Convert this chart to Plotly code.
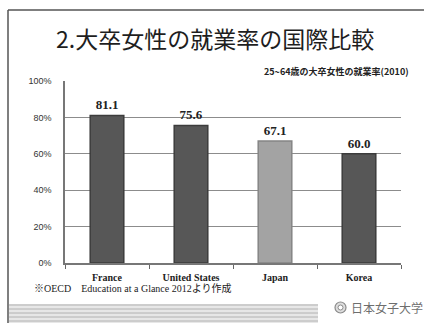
import plotly.graph_objects as go

# Employment rate of university-educated women aged 25-64 (2010)
countries = ["France", "United States", "Japan", "Korea"]
rates = [81.1, 75.6, 67.1, 60.0]
bar_colors = ["#575757", "#575757", "#a3a3a3", "#575757"]
bar_edges = ["#3c3c3c", "#3c3c3c", "#858585", "#3c3c3c"]
y_ticks = [0, 20, 40, 60, 80, 100]
y_tick_text = ["0%", "20%", "40%", "60%", "80%", "100%"]

W, H = 424, 323
ML, MR, MT, MB = 65, 23, 81, 60
PW, PH = W - ML - MR, H - MT - MB


def px(x):
    return (x - ML) / PW


def py(y):
    return (H - MB - y) / PH


fig = go.Figure(
    go.Bar(
        x=countries,
        y=rates,
        width=0.4,
        marker=dict(color=bar_colors, line=dict(color=bar_edges, width=1.5)),
        text=[f"{v:.1f}" for v in rates],
        textposition="outside",
        cliponaxis=False,
        textfont=dict(family="Liberation Serif", size=13, color="#222222", weight="bold"),
    )
)

shapes = []
# slide frame: top and left border
shapes.append(dict(type="line", xref="paper", yref="paper",
                   x0=px(8), x1=px(W + 5), y0=py(10), y1=py(10),
                   line=dict(color="#555555", width=1.5)))
shapes.append(dict(type="line", xref="paper", yref="paper",
                   x0=px(8), x1=px(8), y0=py(10), y1=py(H + 5),
                   line=dict(color="#555555", width=1.5)))
# striped footer band
for i, yy in enumerate(range(305, 324, 2)):
    shapes.append(dict(type="line", xref="paper", yref="paper",
                       x0=px(9), x1=px(318), y0=py(yy), y1=py(yy),
                       line=dict(color="#9a9a9a" if i % 2 == 0 else "#cfcfcf", width=1)))
# emblem
shapes.append(dict(type="circle", xref="paper", yref="paper",
                   x0=px(335), x1=px(346), y0=py(302), y1=py(313),
                   line=dict(color="#8a8a8a", width=1.2), fillcolor="#dddddd"))
shapes.append(dict(type="circle", xref="paper", yref="paper",
                   x0=px(338), x1=px(343), y0=py(305), y1=py(310),
                   line=dict(color="#8a8a8a", width=1), fillcolor="#ffffff"))

annotations = [
    dict(text="2.大卒女性の就業率の国際比較", xref="paper", yref="paper",
         x=px(215), y=py(38), xanchor="center", yanchor="middle", showarrow=False,
         font=dict(family="Noto Sans CJK JP", size=23, color="#1e1e1e")),
    dict(text="25~64歳の大卒女性の就業率(2010)", xref="paper", yref="paper",
         x=px(411), y=py(72), xanchor="right", yanchor="middle", showarrow=False,
         font=dict(family="Noto Sans CJK JP", size=9, color="#222222", weight="bold")),
    dict(text="※OECD　Education at a Glance 2012より作成", xref="paper", yref="paper",
         x=px(32), y=py(288), xanchor="left", yanchor="middle", showarrow=False,
         font=dict(family="Liberation Serif, Noto Sans CJK JP", size=10, color="#222222")),
    dict(text="日本女子大学", xref="paper", yref="paper",
         x=px(349), y=py(307), xanchor="left", yanchor="middle", showarrow=False,
         font=dict(family="Noto Sans CJK JP", size=12, color="#6e6e6e")),
]

fig.update_layout(
    width=W, height=H,
    margin=dict(l=ML, r=MR, t=MT, b=MB, pad=0),
    paper_bgcolor="white", plot_bgcolor="white",
    showlegend=False,
    shapes=shapes,
    annotations=annotations,
    bargap=0.6,
    xaxis=dict(
        type="category",
        tickson="boundaries",
        ticks="outside", ticklen=4, tickcolor="#666666",
        showline=True, linecolor="#777777", linewidth=1.5,
        showgrid=False,
        ticklabelstandoff=4,
        tickfont=dict(family="Liberation Serif", size=10, color="#222222", weight="bold"),
    ),
    yaxis=dict(
        range=[0, 100],
        tickvals=y_ticks, ticktext=y_tick_text,
        showline=True, linecolor="#777777", linewidth=1.5,
        showgrid=True, gridcolor="#8c8c8c", gridwidth=1,
        zeroline=False,
        ticks="", ticklabelstandoff=10,
        tickfont=dict(family="Liberation Sans", size=9, color="#333333"),
    ),
)

fig.write_html("out.html")
